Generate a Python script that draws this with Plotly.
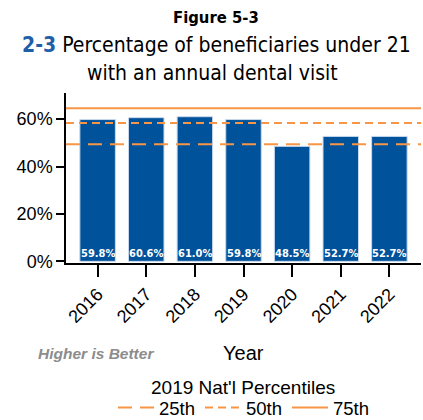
import plotly.graph_objects as go

# Annual dental visit rate, beneficiaries under 21
years = ["2016", "2017", "2018", "2019", "2020", "2021", "2022"]
rates = [59.8, 60.6, 61.0, 59.8, 48.5, 52.7, 52.7]

# 2019 national percentiles
pct_names = ["25th", "50th", "75th"]
pct_values = [49.4, 58.3, 64.6]
pct_dash = ["14px,8px", "8px,5px", "solid"]

BAR_BLUE = "#00529B"
ORANGE = "#F79646"
TEXT_FONT = "Arial, Liberation Sans, sans-serif"
W, H = 423, 420
ML, MR, MT, MB = 66, 2, 93, 157

fig = go.Figure()

fig.add_trace(go.Bar(
    x=years,
    y=rates,
    width=0.73,
    marker=dict(color=BAR_BLUE, line=dict(color="#C9D9EE", width=1)),
    showlegend=False,
    hoverinfo="skip",
))

# Percentile reference lines across the full plot width
for name, val, dash in zip(pct_names, pct_values, pct_dash):
    fig.add_shape(type="line", xref="paper", x0=0, x1=1, yref="y", y0=val, y1=val,
                  line=dict(color=ORANGE, width=2, dash=dash), layer="above")
    fig.add_trace(go.Scatter(x=[None], y=[None], mode="lines", name=name,
                             line=dict(color=ORANGE, width=2, dash=dash)))


def px_x(x):
    return (x - ML) / (W - ML - MR)


def px_y(y):
    return (H - y - MB) / (H - MT - MB)


def label(text, x, y, size, family=TEXT_FONT, color="black"):
    return dict(text=text, x=px_x(x), y=px_y(y), xref="paper", yref="paper",
                xanchor="center", yanchor="middle", showarrow=False,
                font=dict(family=family, size=size, color=color))


# Value labels sit at the foot of each bar (category index on the x axis)
value_labels = [
    dict(text=f"<b>{v:.1f}%</b>", x=i, y=0, xref="x", yref="y",
         xanchor="center", yanchor="middle", yshift=8, showarrow=False,
         font=dict(family="DejaVu Sans Condensed, Liberation Sans Narrow", size=11,
                   color="white"))
    for i, v in enumerate(rates)
]

fig.update_layout(
    width=W, height=H,
    margin=dict(l=ML, r=MR, t=MT, b=MB, autoexpand=False),
    plot_bgcolor="white", paper_bgcolor="white",
    font=dict(family=TEXT_FONT, color="black"),
    xaxis=dict(
        type="category",
        range=[-0.65, 6.65],
        tickangle=-45,
        tickfont=dict(size=18),
        showline=True, linecolor="black", linewidth=1.5,
        ticks="outside", ticklen=12, tickwidth=1.5, tickcolor="black",
        automargin=False,
    ),
    yaxis=dict(
        range=[-0.7, 71],
        tickvals=[0, 20, 40, 60],
        ticktext=["0%", "20%", "40%", "60%"],
        tickfont=dict(size=18),
        showline=True, linecolor="black", linewidth=1.5,
        ticks="outside", ticklen=8, tickwidth=1.5, tickcolor="black",
        showgrid=False, zeroline=False, automargin=False,
    ),
    legend=dict(
        orientation="h", x=113 / W, xref="container", xanchor="left",
        y=(H - 408) / H, yref="container", yanchor="middle",
        font=dict(size=18.5), itemwidth=36, entrywidth=36, tracegroupgap=0,
        bgcolor="rgba(0,0,0,0)",
    ),
    annotations=value_labels + [
        label("<b>Figure 5-3</b>", 216, 17, 16.5, family="DejaVu Sans Condensed"),
        label("<b><span style='color:#1F5FA8'>2-3</span></b> Percentage of beneficiaries under 21",
              216, 45, 21, family="DejaVu Sans Condensed"),
        label("with an annual dental visit", 212, 73, 21, family="DejaVu Sans Condensed"),
        label("<b><i>Higher is Better</i></b>", 96, 353, 15.5, color="#8C8C8C"),
        label("Year", 243, 353, 20),
        label("2019 Nat'l Percentiles", 243, 387, 19),
    ],
)

fig.write_html("out.html")
